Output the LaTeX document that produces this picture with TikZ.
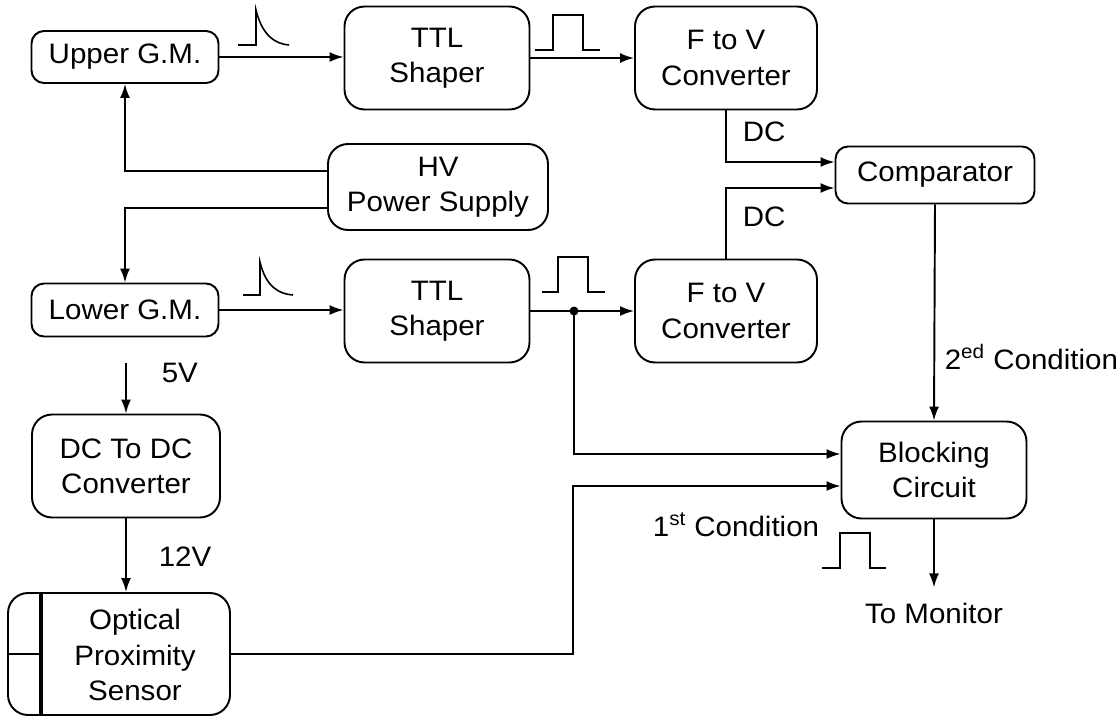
\documentclass[tikz,border=0pt]{standalone}
\usepackage{fontspec}
\setmainfont{Liberation Sans}[FakeStretch=1.05]
\usetikzlibrary{arrows.meta}

\begin{document}
\begin{tikzpicture}[x=0.02cm,y=-0.02cm,
        font=\fontsize{16}{20}\selectfont,
        line width=1.1pt,
        blk/.style={draw,rounded corners=0.4cm,align=center,inner sep=0pt},
        smallblk/.style={blk,rounded corners=0.25cm},
        sig/.style={-{Latex[length=0.28cm,width=0.2cm]}},
        wave/.style={line width=0.9pt}]
        \useasboundingbox (0,0) rectangle (1116,717);
        \node[smallblk,minimum width=3.74cm,minimum height=1.04cm] (upgm) at (125,57) {Upper G.M.};
        \node[blk,minimum width=3.7cm,minimum height=2.06cm] (ttla) at (437,58) {TTL\\Shaper};
        \node[blk,minimum width=3.64cm,minimum height=2.06cm] (fva) at (726,58) {F to V\\Converter};
        \node[smallblk,minimum width=3.98cm,minimum height=1.14cm] (comp) at (935,175) {Comparator};
        \node[blk,minimum width=4.4cm,minimum height=1.72cm] (hv) at (438,187) {HV\\Power Supply};
        \node[smallblk,minimum width=3.74cm,minimum height=1.06cm] (lowgm) at (125,310) {Lower G.M.};
        \node[blk,minimum width=3.7cm,minimum height=2.06cm] (ttlb) at (437,311) {TTL\\Shaper};
        \node[blk,minimum width=3.64cm,minimum height=2.06cm] (fvb) at (726,311) {F to V\\Converter};
        \node[blk,minimum width=3.7cm,minimum height=1.94cm] (blk) at (934,470) {Blocking\\Circuit};
        \node[blk,minimum width=3.76cm,minimum height=2.06cm] (dcdc) at (126,466) {DC To DC\\Converter};
        \node[blk,minimum width=4.44cm,minimum height=2.44cm] (ops) at (119,654) {};
        \node[align=center,inner sep=0pt] (opstxt) at (135,655) {Optical\\Proximity\\Sensor};
        \coordinate (lx) at (41,0);
        \coordinate (jx) at (574,0);
        \coordinate (kx) at (573,0);
        \coordinate (jn) at (ttlb.east -| jx);
        \coordinate (v5) at (126,363);
        \coordinate (mon) at ([yshift=-1.36cm]blk.south);
        \draw[line width=2.5pt] (ops.north -| lx) -- (ops.south -| lx);
        \draw[line width=0.8pt] (ops.west) -- (ops.west -| lx);
        \draw[sig] (upgm.east) -- (upgm.east -| ttla.west);
        \draw[sig] (ttla.east) -- (fva.west);
        \draw[sig] (fva.south) |- ([yshift=0.26cm]comp.west);
        \draw[sig] (fvb.north) |- ([yshift=-0.26cm]comp.west);
        \draw[sig] ([yshift=0.32cm]hv.west) -| (upgm.south);
        \draw[sig] ([yshift=-0.42cm]hv.west) -| (lowgm.north);
        \draw[sig] (lowgm.east) -- (lowgm.east -| ttlb.west);
        \draw[sig] (ttlb.east) -- (fvb.west);
        \fill (jn) circle (0.09cm);
        \draw[sig] (jn) |- ([yshift=0.32cm]blk.west);
        \draw[sig] (ops.east) -- (ops.east -| kx) |- ([yshift=-0.32cm]blk.west);
        \draw[sig] (comp.south) -- (blk.north);
        \draw[sig] (blk.south) -- (mon);
        \draw[sig] (v5) -- (dcdc.north);
        \draw[sig] (dcdc.south) -- (dcdc.south |- ops.north);
        \node[anchor=west] (dca) at (736,132) {DC};
        \node[anchor=west] (dcb) at (736,217) {DC};
        \node[anchor=west] (cond2) at (938,357) {2\textsuperscript{ed} Condition};
        \node (cond1) at (736,525) {1\textsuperscript{st} Condition};
        \node (tomon) at (934,613) {To Monitor};
        \node[anchor=west] (vfive) at (155,373) {5V};
        \node[anchor=west] (vtwelve) at (152,557) {12V};
        \draw[wave] (238,45) -- (256,45) -- (256,10) .. controls (262,35) and (275,44) .. (289,45);
        \draw[wave] (243,295) -- (260,295) -- (260,262) .. controls (266,287) and (279,294) .. (293,295);
        \draw[wave] (535,50) -- (553,50) -- (553,15) -- (583,15) -- (583,50) -- (600,50);
        \draw[wave] (542,292) -- (558,292) -- (558,257) -- (588,257) -- (588,292) -- (605,292);
        \draw[wave] (822,568) -- (840,568) -- (840,533) -- (870,533) -- (870,568) -- (886,568);
    \end{tikzpicture}
\end{document}
